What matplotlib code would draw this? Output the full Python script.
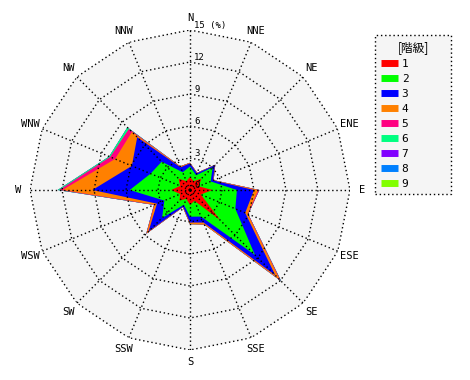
import numpy as np
import matplotlib.pyplot as plt
from matplotlib.lines import Line2D

# 16方位
directions = ["N", "NNE", "NE", "ENE", "E", "ESE", "SE", "SSE",
              "S", "SSW", "SW", "WSW", "W", "WNW", "NW", "NNW"]

# 階級ごとの出現率 (%)
class1 = [1.2, 0.9, 1.5, 0.9, 2.1, 1.1, 4.0, 1.1, 1.4, 0.9, 1.4, 1.0, 1.75, 1.0, 1.5, 0.9]
class2 = [1.0, 0.6, 1.5, 1.2, 2.3, 3.5, 4.6, 1.6, 1.1, 0.6, 2.3, 1.6, 3.9, 3.0, 2.25, 0.9]
class3 = [0.3, 0.2, 0.3, 0.25, 1.6, 1.0, 2.7, 0.6, 0.55, 0.2, 1.8, 0.75, 3.5, 1.9, 3.25, 0.5]
class4 = [0.05, 0.05, 0.05, 0.05, 0.4, 0.25, 0.6, 0.2, 0.15, 0.05, 0.25, 0.25, 2.8, 1.7, 0.7, 0.1]
class5 = [0, 0, 0, 0, 0.1, 0.05, 0.15, 0, 0, 0, 0.05, 0.05, 0.3, 0.5, 0.4, 0]
class6 = [0, 0, 0, 0, 0, 0, 0.05, 0, 0, 0, 0, 0, 0.15, 0.1, 0.2, 0]
class7 = [0, 0, 0, 0, 0, 0, 0, 0, 0, 0, 0, 0, 0, 0, 0, 0]
class8 = [0, 0, 0, 0, 0, 0, 0, 0, 0, 0, 0, 0, 0, 0, 0, 0]
class9 = [0, 0, 0, 0, 0, 0, 0, 0, 0, 0, 0, 0, 0, 0, 0, 0]

class_labels = ["1", "2", "3", "4", "5", "6", "7", "8", "9"]
colors = ["#ff0000", "#00ff00", "#0000ff", "#ff8000", "#ff0080",
          "#00ff80", "#8000ff", "#0080ff", "#80ff00"]
rings = [3, 6, 9, 12, 15]

classes = [class1, class2, class3, class4, class5, class6, class7, class8, class9]
cum = np.cumsum(np.array(classes), axis=0)

theta = np.deg2rad(np.arange(16) * 22.5)
theta_c = np.append(theta, theta[0])

fig = plt.figure(figsize=(4.7, 3.8), dpi=100)
ax = fig.add_axes([30 / 470, 30 / 380, 320 / 470, 320 / 380], projection="polar")
ax.set_theta_zero_location("N")
ax.set_theta_direction(-1)
ax.set_ylim(0, 15)
ax.grid(False)
ax.set_xticks([])
ax.set_yticks([])
ax.spines["polar"].set_visible(False)
ax.patch.set_facecolor("none")

# 背景 (16角形)
ax.fill(theta, [15] * 16, color="#f5f5f5", zorder=0, lw=0)

# 積み上げ (外側から描く)
for i in range(8, -1, -1):
    ax.fill(theta, cum[i], color=colors[i], lw=0, zorder=1 + (8 - i) * 0.01)

# グリッド
dots = (1, 2)
for r in rings:
    ax.plot(theta_c, [r] * 17, ls=(0, dots), color="k", lw=1, zorder=3)
for t in theta:
    ax.plot([t, t], [0, 15], ls=(0, dots), color="k", lw=1, zorder=3)

mono = "DejaVu Sans Mono"
for t, d in zip(theta, directions):
    ax.text(t, 16.15, d, ha="center", va="center", fontsize=7.5, family=mono)

for r in [0] + rings:
    s = "15 (%)" if r == 15 else str(r)
    ax.annotate(s, xy=(0, r), xytext=(3, 0.3), textcoords="offset points",
                ha="left", va="bottom", fontsize=6.5, family=mono, zorder=4)

handles = [Line2D([0], [0], color=c, lw=5, solid_capstyle="butt") for c in colors]
leg = fig.legend(handles, class_labels, loc="upper left", mode="expand",
                 bbox_to_anchor=(375 / 470, 185 / 380, 76 / 470, 160 / 380),
                 borderaxespad=0,
                 title="[階級]", fontsize=8, handlelength=1.6, handletextpad=0.3,
                 labelspacing=0.45, borderpad=0.5, fancybox=False,
                 framealpha=1, edgecolor="k",
                 title_fontproperties={"family": ["Noto Sans CJK JP", "DejaVu Sans"], "size": 8.5})
leg.get_frame().set_linestyle((0, dots))
leg.get_frame().set_facecolor("#f5f5f5")
leg.get_frame().set_linewidth(1)
for txt in leg.get_texts():
    txt.set_family(mono)

fig.savefig("out.png", dpi=100)
